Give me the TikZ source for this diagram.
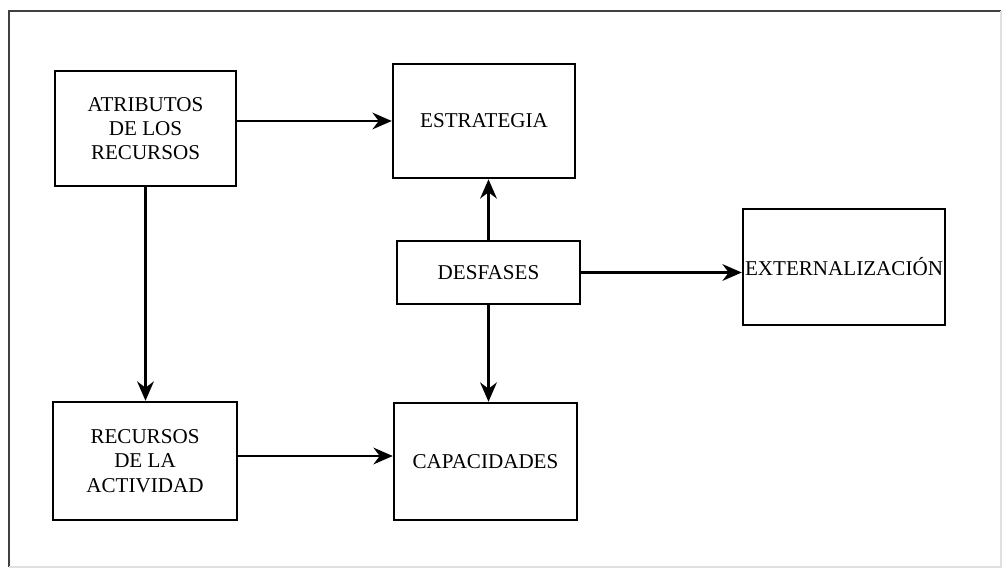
\documentclass[tikz,border=0pt]{standalone}
\usepackage{fontspec}
\setmainfont{Liberation Serif}
\usetikzlibrary{arrows.meta, positioning}

\begin{document}
\begin{tikzpicture}[
			box/.style = {
				draw, line width=1.4pt, align=center,
				font=\fontsize{12}{13.8}\selectfont
			},
			flow/.style = {
				line width=1.4pt, -{Stealth[length=11pt,width=9.5pt]}
			}]
			\useasboundingbox (0,0) rectangle (20.08,11.42);
			% marco
			\draw [black!75, line width=0.8pt] (0.18,0.08) -- (0.18,11.2) -- (20.02,11.2);
			\draw [black!12, line width=0.6pt] (0.18,0.08) -- (20.02,0.08) -- (20.02,11.2);
			% cajas
			\node (atrib) [box, minimum width=3.62cm, minimum height=2.30cm] at (2.91,8.85)
				{ATRIBUTOS\\DE LOS\\RECURSOS};
			\node (estr) [box, minimum width=3.64cm, minimum height=2.28cm] at (9.68,9.00)
				{ESTRATEGIA};
			\node (desf) [box, minimum width=3.66cm, minimum height=1.26cm] at (9.77,5.97)
				{DESFASES};
			\node (ext) [box, minimum width=4.04cm, minimum height=2.32cm, inner xsep=1pt] at (16.88,6.08)
				{EXTERNALIZACIÓN};
			\node (recur) [box, minimum width=3.68cm, minimum height=2.36cm] at (2.90,2.20)
				{RECURSOS\\DE LA\\ACTIVIDAD};
			\node (capac) [box, minimum width=3.66cm, minimum height=2.34cm] at (9.71,2.19)
				{CAPACIDADES};
			% flechas
			\draw [flow] (atrib.east |- estr.west) -- (estr.west);
			\draw [flow] (atrib.south) -- (atrib.south |- recur.north);
			\draw [flow] ([yshift=0.1cm]recur.east) -- ([yshift=0.1cm]recur.east -| capac.west);
			\draw [flow] (desf.north) -- (desf.north |- estr.south);
			\draw [flow] (desf.south) -- (desf.south |- capac.north);
			\draw [flow] (desf.east) -- (desf.east -| ext.west);
		\end{tikzpicture}
\end{document}
